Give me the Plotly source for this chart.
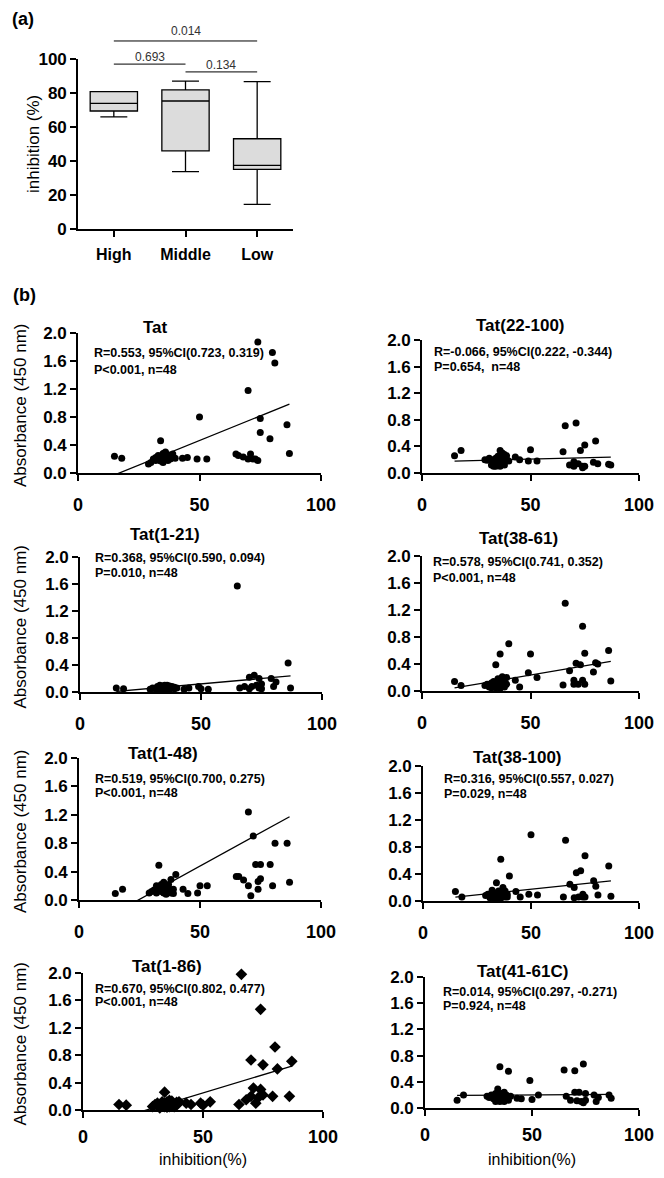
import plotly.graph_objects as go

# The page body keeps its default 8px margin, so the figure starts 8px in
# from the window's top-left corner; size it to fit inside that margin.
PAGE_W, PAGE_H = 664, 1178
OFF = 8
W, H = PAGE_W - 2 * OFF, PAGE_H - 2 * OFF
FONT = "Liberation Sans, Arial, sans-serif"

# ---------------- Panel (a) data ----------------
groups = ["High", "Middle", "Low"]
box_q1 = [69.4, 46.0, 35.1]
box_median = [73.9, 75.3, 37.4]
box_q3 = [80.8, 81.8, 53.1]
box_low = [66.0, 33.7, 14.5]
box_high = [80.8, 87.0, 86.7]
sig_labels = ["0.014", "0.693", "0.134"]
sig_pairs = [(0, 2), (0, 1), (1, 2)]
sig_levels = [110.6, 97.0, 92.4]

# ---------------- Panel (b) data ----------------
inhibition = [15, 18, 29, 30, 31, 32, 32, 33, 33, 34, 34, 34, 35, 35, 35, 36, 36, 36,
              37, 37, 37, 38, 38, 39, 39, 40, 43, 45, 49, 50, 53,
              65, 66, 68, 70, 70, 71, 72, 73, 74, 74, 75, 75, 79, 80, 81, 86, 87]

names = ["Tat", "Tat(22-100)", "Tat(1-21)", "Tat(38-61)",
         "Tat(1-48)", "Tat(38-100)", "Tat(1-86)", "Tat(41-61C)"]

abs_tat = [0.24, 0.21, 0.13, 0.15, 0.20, 0.22, 0.18, 0.25, 0.20, 0.46, 0.22, 0.17, 0.28, 0.23, 0.15,
           0.25, 0.20, 0.30, 0.22, 0.26, 0.18, 0.24, 0.20, 0.22, 0.27, 0.21, 0.21, 0.22, 0.20, 0.80, 0.20,
           0.27, 0.25, 0.23, 0.20, 1.18, 0.27, 0.20, 0.20, 1.87, 0.18, 0.78, 0.58, 0.49, 1.72, 1.57, 0.69, 0.28]
abs_22_100 = [0.26, 0.34, 0.20, 0.19, 0.22, 0.12, 0.20, 0.10, 0.18, 0.14, 0.22, 0.10, 0.25, 0.12, 0.20,
              0.34, 0.18, 0.10, 0.30, 0.15, 0.22, 0.28, 0.12, 0.20, 0.26, 0.18, 0.24, 0.20, 0.18, 0.35, 0.18,
              0.32, 0.71, 0.12, 0.17, 0.10, 0.75, 0.14, 0.34, 0.10, 0.08, 0.42, 0.10, 0.16, 0.48, 0.14, 0.13, 0.12]
abs_1_21 = [0.06, 0.05, 0.04, 0.06, 0.05, 0.08, 0.04, 0.10, 0.06, 0.05, 0.09, 0.03, 0.10, 0.06, 0.04,
            0.08, 0.05, 0.10, 0.07, 0.04, 0.09, 0.06, 0.08, 0.05, 0.07, 0.06, 0.04, 0.06, 0.08, 0.05, 0.04,
            1.57, 0.06, 0.08, 0.05, 0.22, 0.08, 0.25, 0.10, 0.06, 0.20, 0.12, 0.05, 0.20, 0.08, 0.15, 0.43, 0.06]
abs_38_61 = [0.14, 0.08, 0.08, 0.10, 0.06, 0.12, 0.05, 0.10, 0.14, 0.39, 0.08, 0.05, 0.12, 0.06, 0.18,
             0.55, 0.10, 0.04, 0.21, 0.08, 0.12, 0.15, 0.06, 0.10, 0.20, 0.70, 0.16, 0.06, 0.27, 0.55, 0.20,
             0.09, 1.30, 0.30, 0.10, 0.16, 0.41, 0.10, 0.39, 0.16, 0.96, 0.56, 0.10, 0.28, 0.42, 0.40, 0.60, 0.15]
abs_1_48 = [0.09, 0.15, 0.10, 0.12, 0.14, 0.20, 0.10, 0.18, 0.49, 0.22, 0.15, 0.12, 0.25, 0.18, 0.10,
            0.20, 0.14, 0.08, 0.22, 0.12, 0.17, 0.29, 0.10, 0.09, 0.15, 0.36, 0.15, 0.09, 0.10, 0.20, 0.20,
            0.33, 0.33, 0.28, 0.20, 1.24, 0.06, 0.90, 0.50, 0.26, 0.15, 0.50, 0.30, 0.50, 0.20, 0.80, 0.80, 0.25]
abs_38_100 = [0.14, 0.06, 0.08, 0.10, 0.05, 0.16, 0.06, 0.10, 0.04, 0.12, 0.27, 0.05, 0.08, 0.15, 0.06,
              0.62, 0.10, 0.04, 0.20, 0.08, 0.12, 0.06, 0.15, 0.10, 0.06, 0.37, 0.14, 0.06, 0.10, 0.98, 0.09,
              0.06, 0.90, 0.25, 0.20, 0.05, 0.42, 0.06, 0.45, 0.06, 0.10, 0.67, 0.06, 0.30, 0.22, 0.09, 0.52, 0.07]
abs_1_86 = [0.08, 0.07, 0.05, 0.08, 0.10, 0.06, 0.03, 0.09, 0.12, 0.26, 0.05, 0.10, 0.04, 0.12, 0.07,
            0.09, 0.14, 0.05, 0.10, 0.06, 0.13, 0.08, 0.05, 0.11, 0.07, 0.12, 0.10, 0.08, 0.10, 0.07, 0.12,
            0.08, 1.98, 0.15, 0.20, 0.73, 0.32, 0.10, 0.18, 1.47, 0.30, 0.22, 0.66, 0.20, 0.92, 0.60, 0.20, 0.71]
abs_41_61c = [0.12, 0.20, 0.18, 0.16, 0.20, 0.14, 0.18, 0.10, 0.22, 0.29, 0.12, 0.16, 0.63, 0.20, 0.10,
              0.15, 0.22, 0.12, 0.18, 0.10, 0.24, 0.20, 0.14, 0.56, 0.12, 0.18, 0.15, 0.14, 0.42, 0.13, 0.20,
              0.58, 0.18, 0.12, 0.57, 0.24, 0.11, 0.24, 0.10, 0.67, 0.08, 0.22, 0.12, 0.20, 0.10, 0.16, 0.20, 0.15]
absorbance = [abs_tat, abs_22_100, abs_1_21, abs_38_61, abs_1_48, abs_38_100, abs_1_86, abs_41_61c]

fit_slope = [0.01406, 0.00083, 0.0032, 0.00544, 0.01876, 0.00335, 0.01058, 0.0002]
fit_intercept = [-0.239, 0.1675, -0.04, -0.036, -0.46, 0.008, -0.28, 0.19]

stats_r = ["R=0.553, 95%CI(0.723, 0.319)", "R=-0.066, 95%CI(0.222, -0.344)",
           "R=0.368, 95%CI(0.590, 0.094)", "R=0.578, 95%CI(0.741, 0.352)",
           "R=0.519, 95%CI(0.700, 0.275)", "R=0.316, 95%CI(0.557, 0.027)",
           "R=0.670, 95%CI(0.802, 0.477)", "R=0.014, 95%CI(0.297, -0.271)"]
stats_p = ["P<0.001, n=48", "P=0.654,  n=48", "P=0.010, n=48", "P<0.001, n=48",
           "P<0.001, n=48", "P=0.029, n=48", "P<0.001, n=48", "P=0.924, n=48"]
marker_symbols = ["circle"] * 6 + ["diamond", "circle"]

y_ticks = [0, 0.4, 0.8, 1.2, 1.6, 2.0]
x_ticks = [0, 50, 100]
a_ticks = [0, 20, 40, 60, 80, 100]

# ---------------- layout geometry (window pixels) ----------------
boxes = [(78, 321, 333, 473), (422, 639, 340, 473),
         (80, 322, 557, 692), (422, 639, 556, 691),
         (79, 321, 758, 900), (423, 639, 766, 901),
         (83, 323, 973, 1110), (425, 639, 977, 1108)]
title_pos = [(155, 327), (520, 325), (165, 535), (518, 538),
             (163, 753), (517, 757), (167, 966), (522, 971)]
stat_pos = [(92, 353, 370), (432, 352, 367), (93, 558, 573), (431, 562, 578),
            (93, 779, 793), (442, 779, 794), (93, 989, 1002), (441, 992, 1006)]


def fx(px):
    return (px - OFF) / W


def fy(py):
    return 1 - (py - OFF) / H


fig = go.Figure()

axis_common = dict(showline=True, linecolor="black", linewidth=1.6, ticks="outside",
                   ticklen=6, tickwidth=1.5, tickcolor="black", showgrid=False,
                   zeroline=False, mirror=False, automargin=False)

fig.add_trace(go.Box(
    x=groups, q1=box_q1, median=box_median, q3=box_q3,
    lowerfence=box_low, upperfence=box_high,
    fillcolor="#dcdcdc", line=dict(color="black", width=1.3),
    width=0.66, whiskerwidth=0.57, boxpoints=False,
    xaxis="x", yaxis="y", hoverinfo="skip"))

layout = dict(
    template="none",
    width=W, height=H, autosize=False,
    margin=dict(l=0, r=0, t=0, b=0, pad=0, autoexpand=False),
    paper_bgcolor="white", plot_bgcolor="white",
    showlegend=False,
    font=dict(family=FONT, color="black"),
)
layout["xaxis"] = dict(axis_common, domain=[fx(78), fx(293)], anchor="y",
                       type="category", range=[-0.5, 2.5],
                       tickfont=dict(size=16, weight="bold", family=FONT),
                       ticklabelstandoff=4)
layout["yaxis"] = dict(axis_common, domain=[fy(229), fy(59)], anchor="x",
                       range=[0, 100], tickvals=a_ticks,
                       tickfont=dict(size=17, weight="bold", family=FONT))

annotations = []
shapes = []

annotations.append(dict(text="<b>(a)</b>", x=fx(10), y=fy(19), xref="paper", yref="paper",
                        xanchor="left", yanchor="middle", showarrow=False,
                        font=dict(size=18, family=FONT)))
annotations.append(dict(text="<b>(b)</b>", x=fx(11), y=fy(295), xref="paper", yref="paper",
                        xanchor="left", yanchor="middle", showarrow=False,
                        font=dict(size=18, family=FONT)))
annotations.append(dict(text="inhibition (%)", x=fx(33), y=fy(144), xref="paper", yref="paper",
                        textangle=-90, xanchor="center", yanchor="middle", showarrow=False,
                        font=dict(size=17, family=FONT)))

sig_text_py = [31, 57, 65]
for (i0, i1), lev, lab, tpy in zip(sig_pairs, sig_levels, sig_labels, sig_text_py):
    shapes.append(dict(type="line", xref="x domain", yref="y domain",
                       x0=(i0 + 0.5) / 3, x1=(i1 + 0.5) / 3, y0=lev / 100, y1=lev / 100,
                       line=dict(color="black", width=1)))
    annotations.append(dict(text=lab, xref="x domain", yref="paper",
                            x=(i0 + i1 + 1) / 6, y=fy(tpy), showarrow=False,
                            xanchor="center", yanchor="middle",
                            font=dict(size=12, color="#333333", family=FONT)))

for k in range(8):
    n = k + 2
    xl, xr, yt, yb = boxes[k]
    xa, ya = f"x{n}", f"y{n}"
    xs = inhibition
    ys = absorbance[k]
    fig.add_trace(go.Scatter(
        x=xs, y=ys, mode="markers", cliponaxis=False,
        marker=dict(symbol=marker_symbols[k], color="black",
                    size=9 if marker_symbols[k] == "diamond" else 7,
                    line=dict(width=0)),
        xaxis=xa, yaxis=ya, hoverinfo="skip"))
    lx = [min(xs), max(xs)]
    ly = [fit_slope[k] * v + fit_intercept[k] for v in lx]
    fig.add_trace(go.Scatter(
        x=lx, y=ly, mode="lines", line=dict(color="black", width=1.3),
        xaxis=xa, yaxis=ya, hoverinfo="skip"))

    bottom = k >= 6
    layout[f"xaxis{n}"] = dict(axis_common, domain=[fx(xl), fx(xr)], anchor=ya,
                               range=[0, 100], tickvals=x_ticks,
                               tickfont=dict(size=18, weight="bold", family=FONT),
                               ticklabelstandoff=4 if bottom else 9)
    layout[f"yaxis{n}"] = dict(axis_common, domain=[fy(yb), fy(yt)], anchor=xa,
                               range=[0, 2], tickvals=y_ticks, tickformat=".1f",
                               tickfont=dict(size=17, weight="bold", family=FONT))

    tx, ty = title_pos[k]
    annotations.append(dict(text=f"<b>{names[k]}</b>", x=fx(tx), y=fy(ty),
                            xref="paper", yref="paper", showarrow=False,
                            xanchor="center", yanchor="middle",
                            font=dict(size=17, family=FONT)))
    sx, sy1, sy2 = stat_pos[k]
    annotations.append(dict(text=f"<b>{stats_r[k]}</b>", x=fx(sx), y=fy(sy1), xref="paper", yref="paper",
                            showarrow=False, xanchor="left", yanchor="middle",
                            font=dict(size=12.5, family=FONT)))
    annotations.append(dict(text=f"<b>{stats_p[k]}</b>", x=fx(sx), y=fy(sy2), xref="paper", yref="paper",
                            showarrow=False, xanchor="left", yanchor="middle",
                            font=dict(size=12.5, family=FONT)))
    if k % 2 == 0:
        annotations.append(dict(text="Absorbance (450 nm)", x=fx(20), y=fy((yt + yb) / 2 + 3),
                                xref="paper", yref="paper", textangle=-90, showarrow=False,
                                xanchor="center", yanchor="middle",
                                font=dict(size=17, family=FONT)))
    if bottom:
        annotations.append(dict(text="inhibition(%)", x=fx((xl + xr) / 2), y=fy(1159),
                                xref="paper", yref="paper", showarrow=False,
                                xanchor="center", yanchor="middle",
                                font=dict(size=16, family=FONT)))

layout["annotations"] = annotations
layout["shapes"] = shapes
fig.update_layout(**layout)

fig.write_html("out.html")
